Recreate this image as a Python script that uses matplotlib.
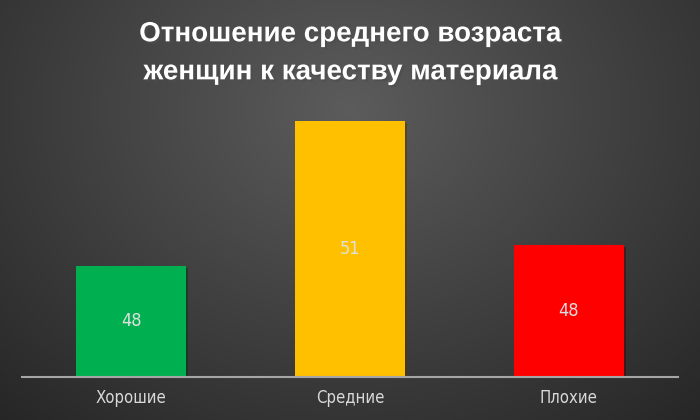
import numpy as np
import matplotlib.pyplot as plt
import matplotlib.patheffects as pe

# Data
categories = ["Хорошие", "Средние", "Плохие"]
values = [47.6, 51.0, 48.1]
colors = ["#00B050", "#FFC000", "#FF0000"]
title = "Отношение среднего возраста\nженщин к качеству материала"

fig = plt.figure(figsize=(7, 4.2), dpi=100)

# radial background
bg = fig.add_axes([0, 0, 1, 1])
yy, xx = np.mgrid[0:420, 0:700]
r = np.sqrt(((xx - 350) / 520.0) ** 2 + ((yy - 110) / 420.0) ** 2)
r = np.clip(r, 0, 1)
shade = 0.36 - 0.21 * r
img = np.dstack([shade, shade, shade])
bg.imshow(img, aspect="auto", extent=[0, 1, 0, 1])
bg.axis("off")

ax = fig.add_axes([0.031, 0.103, 0.938, 0.635])
ax.patch.set_alpha(0)
x = np.arange(len(categories))
bars = ax.bar(x, values, width=0.5, color=colors, bottom=0)
for b in bars:
    b.set_path_effects([pe.SimplePatchShadow(offset=(1.5, -1.5), alpha=0.5), pe.Normal()])
ax.set_ylim(45, 51.26)
ax.set_xlim(-0.5, 2.5)

for xi, v in zip(x, values):
    ax.text(xi, (45 + v) / 2, "%.0f" % v, ha="center", va="center",
            color="#e0e0e0", fontsize=13, family="DejaVu Sans", fontstretch="condensed")

ax.set_xticks(x)
ax.set_xticklabels(categories, family="DejaVu Sans", fontstretch="condensed",
                   fontsize=12, color="#d9d9d9")
ax.tick_params(axis="x", length=0, pad=9)
ax.set_yticks([])
for s in ["top", "right", "left"]:
    ax.spines[s].set_visible(False)
ax.spines["bottom"].set_color("#a6a6a6")
ax.spines["bottom"].set_linewidth(1.5)

fig.text(0.5, 0.873, title, ha="center", va="center", color="white",
         fontsize=20, fontweight="bold", family="Liberation Sans", linespacing=1.6,
         path_effects=[pe.SimplePatchShadow(offset=(1.5, -1.5), alpha=0.7), pe.Normal()])

fig.savefig("out.png", dpi=100)
